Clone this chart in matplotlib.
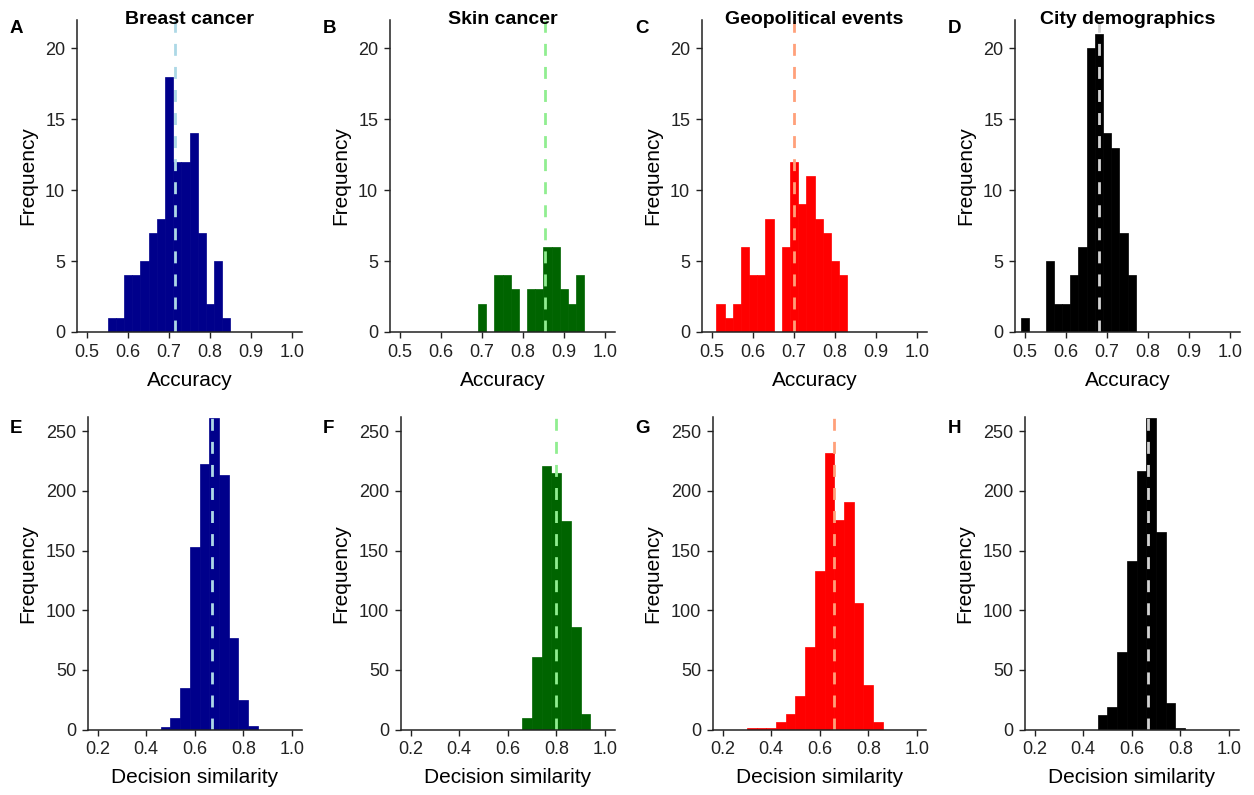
import numpy as np
import matplotlib
matplotlib.use("Agg")
import matplotlib.pyplot as plt

plt.rcParams["font.family"] = ["Liberation Sans", "DejaVu Sans"]

domains = ["Breast cancer", "Skin cancer", "Geopolitical events", "City demographics"]
bar_colors = ["#00008B", "#006400", "#FF0000", "#000000"]
mean_colors = ["#ADD8E6", "#90EE90", "#FFA07A", "#D3D3D3"]
letters_top = ["A", "B", "C", "D"]
letters_bottom = ["E", "F", "G", "H"]

# accuracy histograms (bin width 0.02)
acc_start = [0.55, 0.69, 0.51, 0.49]
acc_counts = [
    [1, 1, 4, 4, 5, 7, 8, 18, 12, 12, 14, 7, 2, 5, 1],
    [2, 0, 4, 4, 3, 0, 3, 3, 6, 6, 3, 2, 4],
    [2, 1, 2, 6, 4, 4, 8, 0, 6, 12, 9, 11, 8, 7, 5, 4],
    [1, 0, 0, 5, 2, 2, 4, 6, 20, 21, 14, 13, 7, 4],
]
acc_mean = [0.715, 0.855, 0.701, 0.680]

# pairwise decision similarity histograms (bin width 0.04)
sim_start = [0.46, 0.66, 0.30, 0.46]
sim_counts = [
    [2, 10, 35, 153, 223, 261, 213, 77, 25, 3],
    [10, 61, 221, 215, 175, 86, 13],
    [1, 1, 1, 6, 13, 28, 69, 133, 232, 176, 191, 106, 37, 6],
    [12, 19, 65, 141, 217, 261, 166, 22, 1],
]
sim_mean = [0.672, 0.797, 0.658, 0.666]

W, H = 1254, 795
fig = plt.figure(figsize=(W / 100, H / 100), dpi=100)

top_left = [77, 390, 702, 1015]
bot_left = [88, 401, 713, 1025]


def px_axes(left, right, top, bottom):
    return fig.add_axes([left / W, 1 - bottom / H, (right - left) / W, (bottom - top) / H])


def style(ax):
    for s in ["top", "right"]:
        ax.spines[s].set_visible(False)
    for s in ["left", "bottom"]:
        ax.spines[s].set_linewidth(1.1)
        ax.spines[s].set_color("#222222")
    ax.tick_params(direction="out", length=4, width=1.0, labelsize=13,
                   colors="#222222", labelcolor="#222222", pad=4.5)


def hist_panel(ax, start, counts, width, mean, color, mcolor):
    counts = np.array(counts)
    lefts = start + width * np.arange(len(counts))
    ax.bar(lefts, counts, width=width, align="edge", color=color,
           edgecolor=color, linewidth=0.5)
    ax.axvline(mean, color=mcolor, linewidth=2.0, linestyle=(0, (4.3, 4)))


for i in range(4):
    ax = px_axes(top_left[i], top_left[i] + 225, 20, 332)
    hist_panel(ax, acc_start[i], acc_counts[i], 0.02, acc_mean[i], bar_colors[i], mean_colors[i])
    ax.set_xlim(0.475, 1.025)
    ax.set_ylim(0, 22)
    ax.set_xticks([0.5, 0.6, 0.7, 0.8, 0.9, 1.0])
    ax.set_xticklabels(["0.5", "0.6", "0.7", "0.8", "0.9", "1.0"])
    ax.set_yticks([0, 5, 10, 15, 20])
    style(ax)
    ax.set_xlabel("Accuracy", fontsize=15)
    ax.xaxis.set_label_coords(0.5, -0.157)
    ax.xaxis.label.set_va("center")
    ax.set_ylabel("Frequency", fontsize=15)
    ax.yaxis.set_label_coords(-0.218, 0.5)
    ax.yaxis.label.set_va("center")
    ax.text(0.5, 1.0, domains[i], transform=ax.transAxes, ha="center", va="center",
            fontsize=14, fontweight="bold")
    fig.text((top_left[i] - 67) / W, 1 - 20 / H, letters_top[i], ha="left", va="top",
             fontsize=13.5, fontweight="bold")

    ax = px_axes(bot_left[i], bot_left[i] + 213.5, 417, 729.5)
    hist_panel(ax, sim_start[i], sim_counts[i], 0.04, sim_mean[i], bar_colors[i], mean_colors[i])
    ax.set_xlim(0.16, 1.04)
    ax.set_ylim(0, 262)
    ax.set_xticks([0.2, 0.4, 0.6, 0.8, 1.0])
    ax.set_xticklabels(["0.2", "0.4", "0.6", "0.8", "1.0"])
    ax.set_yticks([0, 50, 100, 150, 200, 250])
    style(ax)
    ax.set_xlabel("Decision similarity", fontsize=15)
    ax.xaxis.set_label_coords(0.5, -0.153)
    ax.xaxis.label.set_va("center")
    ax.set_ylabel("Frequency", fontsize=15)
    ax.yaxis.set_label_coords(-0.282, 0.5)
    ax.yaxis.label.set_va("center")
    fig.text((top_left[i] - 67) / W, 1 - 420 / H, letters_bottom[i], ha="left", va="top",
             fontsize=13.5, fontweight="bold")

fig.savefig("out.png", dpi=100, facecolor="white")
